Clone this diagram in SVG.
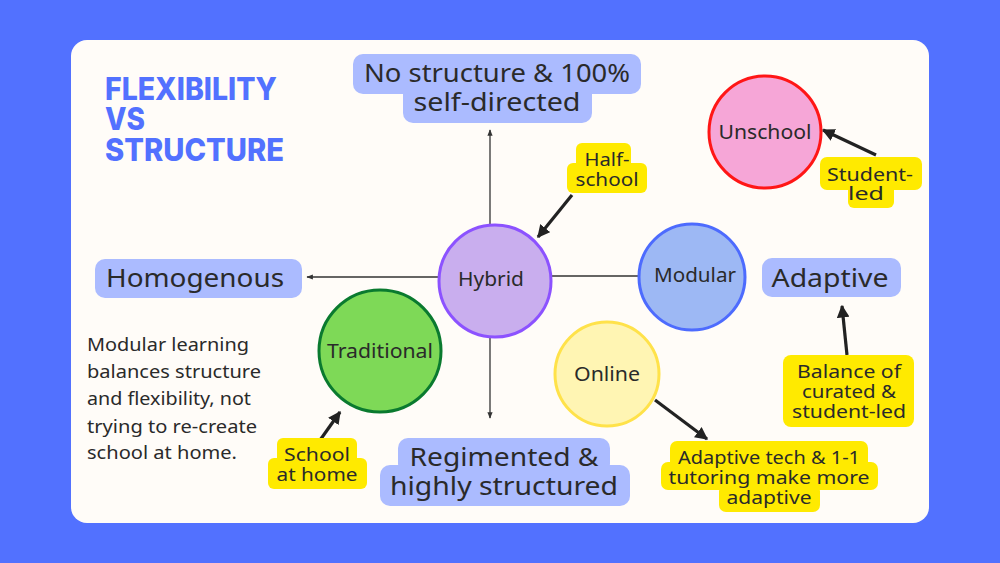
<svg xmlns="http://www.w3.org/2000/svg" width="1000" height="563" viewBox="0 0 1000 563">
<defs>
<style>
.lbl{font-family:"Noto Sans","DejaVu Sans",sans-serif;fill:#2a2a2a;text-anchor:middle}
.big{font-size:25px}
.sm{font-size:18px}
.cir{font-size:19px}
.para{font-family:"Noto Sans","DejaVu Sans",sans-serif;font-size:18px;fill:#2a2a2a}
.title{font-family:"Inter","Noto Sans",sans-serif;font-weight:800;font-size:31px;fill:#5271ff}
.bbox{fill:#abbbff}
.ybox{fill:#ffea00}
.thin{stroke:#333;stroke-width:1.3;fill:none}
.thick{stroke:#222;stroke-width:3.2;fill:none}
</style>
<marker id="ah" viewBox="0 0 10 10" refX="9" refY="5" markerWidth="4" markerHeight="4" orient="auto" markerUnits="strokeWidth">
<path d="M0,0 L10,5 L0,10 z" fill="#222"/>
</marker>
<marker id="ahs" viewBox="0 0 10 10" refX="9" refY="5" markerWidth="5" markerHeight="5" orient="auto" markerUnits="strokeWidth">
<path d="M0,1 L10,5 L0,9 z" fill="#333"/>
</marker>
</defs>
<rect x="0" y="0" width="1000" height="563" fill="#5271ff"/>
<rect x="71" y="40" width="858" height="483" rx="16" fill="#fffcf8"/>

<g id="title">
<text class="title" x="105" y="100" textLength="172" lengthAdjust="spacingAndGlyphs">FLEXIBILITY</text>
<text class="title" x="105" y="130" textLength="40" lengthAdjust="spacingAndGlyphs">VS</text>
<text class="title" x="105" y="161" textLength="179" lengthAdjust="spacingAndGlyphs">STRUCTURE</text>
</g>

<g id="connectors">
<line class="thin" x1="490" y1="225" x2="490" y2="130" marker-end="url(#ahs)"/>
<line class="thin" x1="490" y1="338" x2="490" y2="418" marker-end="url(#ahs)"/>
<line class="thin" x1="438" y1="277" x2="307" y2="277" marker-end="url(#ahs)"/>
<line class="thin" x1="552" y1="276" x2="638" y2="276"/>
<line class="thick" x1="572" y1="195" x2="538" y2="237" marker-end="url(#ah)"/>
<line class="thick" x1="876" y1="155" x2="823" y2="130" marker-end="url(#ah)"/>
<line class="thick" x1="318" y1="443" x2="340" y2="412" marker-end="url(#ah)"/>
<line class="thick" x1="655" y1="400" x2="707" y2="439" marker-end="url(#ah)"/>
<line class="thick" x1="847" y1="355" x2="842" y2="306" marker-end="url(#ah)"/>
</g>

<g id="no-structure">
<rect class="bbox" x="353" y="54" width="288" height="40" rx="10"/>
<rect class="bbox" x="403" y="84" width="189" height="39" rx="10"/>
<text class="lbl big" x="497" y="82" textLength="266" lengthAdjust="spacingAndGlyphs">No structure &amp; 100%</text>
<text class="lbl big" x="497" y="111" textLength="167" lengthAdjust="spacingAndGlyphs">self-directed</text>
</g>

<g id="homogenous">
<rect class="bbox" x="95" y="259" width="207" height="39" rx="10"/>
<text class="lbl big" x="195" y="287" textLength="178" lengthAdjust="spacingAndGlyphs">Homogenous</text>
</g>

<g id="adaptive">
<rect class="bbox" x="762" y="258" width="139" height="39" rx="10"/>
<text class="lbl big" x="830" y="287" textLength="117" lengthAdjust="spacingAndGlyphs">Adaptive</text>
</g>

<g id="regimented">
<rect class="bbox" x="398" y="438" width="212" height="36" rx="10"/>
<rect class="bbox" x="380" y="465" width="250" height="41" rx="10"/>
<text class="lbl big" x="504" y="466" textLength="189" lengthAdjust="spacingAndGlyphs">Regimented &amp;</text>
<text class="lbl big" x="504" y="495" textLength="228" lengthAdjust="spacingAndGlyphs">highly structured</text>
</g>

<g id="hybrid">
<circle cx="495" cy="281" r="56" fill="#c9aeee" stroke="#8c52ff" stroke-width="3"/>
<text class="lbl cir" x="491" y="286" textLength="66" lengthAdjust="spacingAndGlyphs">Hybrid</text>
</g>

<g id="traditional">
<circle cx="380" cy="351" r="61" fill="#7ed957" stroke="#0a7a2f" stroke-width="3"/>
<text class="lbl cir" x="380" y="358" textLength="106" lengthAdjust="spacingAndGlyphs">Traditional</text>
</g>

<g id="modular">
<circle cx="692" cy="277" r="53" fill="#9db8f4" stroke="#4d6bfe" stroke-width="3"/>
<text class="lbl cir" x="695" y="282" textLength="82" lengthAdjust="spacingAndGlyphs">Modular</text>
</g>

<g id="online">
<circle cx="607" cy="374" r="52" fill="#fff5b3" stroke="#ffe24a" stroke-width="3"/>
<text class="lbl cir" x="607" y="381" textLength="66" lengthAdjust="spacingAndGlyphs">Online</text>
</g>

<g id="unschool">
<circle cx="765" cy="132" r="56" fill="#f6a6d7" stroke="#ff1616" stroke-width="3"/>
<text class="lbl cir" x="765" y="139" textLength="93" lengthAdjust="spacingAndGlyphs">Unschool</text>
</g>

<g id="half-school">
<rect class="ybox" x="576" y="143" width="55" height="26" rx="6"/>
<rect class="ybox" x="567" y="163" width="80" height="30" rx="6"/>
<text class="lbl sm" x="607" y="166" textLength="45" lengthAdjust="spacingAndGlyphs">Half-</text>
<text class="lbl sm" x="607" y="186" textLength="63" lengthAdjust="spacingAndGlyphs">school</text>
</g>

<g id="student-led">
<rect class="ybox" x="820" y="157" width="102" height="33" rx="7"/>
<rect class="ybox" x="848" y="184" width="46" height="24" rx="6"/>
<text class="lbl sm" x="870" y="181" textLength="86" lengthAdjust="spacingAndGlyphs">Student-</text>
<text class="lbl sm" x="866" y="200" textLength="36" lengthAdjust="spacingAndGlyphs">led</text>
</g>

<g id="school-at-home">
<rect class="ybox" x="277" y="438" width="80" height="26" rx="6"/>
<rect class="ybox" x="268" y="458" width="99" height="31" rx="6"/>
<text class="lbl sm" x="317" y="461" textLength="66" lengthAdjust="spacingAndGlyphs">School</text>
<text class="lbl sm" x="317" y="481" textLength="81" lengthAdjust="spacingAndGlyphs">at home</text>
</g>

<g id="balance">
<rect class="ybox" x="783" y="355" width="131" height="72" rx="8"/>
<text class="lbl sm" x="849" y="378" textLength="104" lengthAdjust="spacingAndGlyphs">Balance of</text>
<text class="lbl sm" x="849" y="398" textLength="94" lengthAdjust="spacingAndGlyphs">curated &amp;</text>
<text class="lbl sm" x="849" y="418" textLength="114" lengthAdjust="spacingAndGlyphs">student-led</text>
</g>

<g id="adaptive-tech">
<rect class="ybox" x="670" y="441" width="198" height="28" rx="7"/>
<rect class="ybox" x="661" y="462" width="217" height="28" rx="7"/>
<rect class="ybox" x="719" y="484" width="101" height="28" rx="7"/>
<text class="lbl sm" x="769" y="464" textLength="182" lengthAdjust="spacingAndGlyphs">Adaptive tech &amp; 1-1</text>
<text class="lbl sm" x="769" y="484" textLength="201" lengthAdjust="spacingAndGlyphs">tutoring make more</text>
<text class="lbl sm" x="769" y="504" textLength="85" lengthAdjust="spacingAndGlyphs">adaptive</text>
</g>

<g id="note">
<text class="para" x="87" y="351" fill="#1e1e1e" textLength="162" lengthAdjust="spacingAndGlyphs">Modular learning</text>
<text class="para" x="87" y="378" textLength="174" lengthAdjust="spacingAndGlyphs">balances structure</text>
<text class="para" x="87" y="405" textLength="164" lengthAdjust="spacingAndGlyphs">and flexibility, not</text>
<text class="para" x="87" y="433" textLength="170" lengthAdjust="spacingAndGlyphs">trying to re-create</text>
<text class="para" x="87" y="459" textLength="150" lengthAdjust="spacingAndGlyphs">school at home.</text>
</g>
</svg>
